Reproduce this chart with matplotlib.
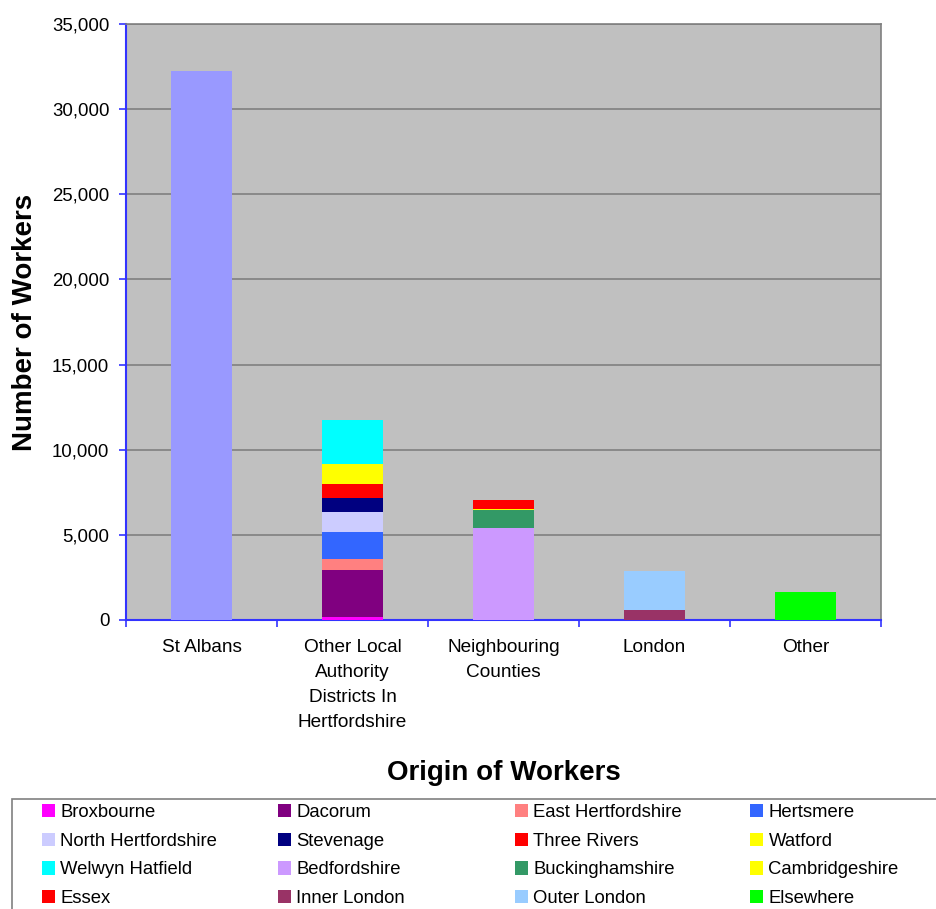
import matplotlib
matplotlib.use("Agg")
import matplotlib.pyplot as plt
from matplotlib.patches import Rectangle
import numpy as np

plt.rcParams["font.family"] = ["Liberation Sans", "DejaVu Sans"]

# Origin categories along the x axis
categories = ["St Albans",
              "Other Local\nAuthority\nDistricts In\nHertfordshire",
              "Neighbouring\nCounties",
              "London",
              "Other"]

# Workers living within St Albans itself
st_albans_values = [32250, 0, 0, 0, 0]

# Stacked components: name, category they belong to, number of workers
segment_names = ["Broxbourne", "Dacorum", "East Hertfordshire", "Hertsmere",
                 "North Hertfordshire", "Stevenage", "Three Rivers", "Watford",
                 "Welwyn Hatfield", "Bedfordshire", "Buckinghamshire",
                 "Cambridgeshire", "Essex", "Inner London", "Outer London",
                 "Elsewhere"]
segment_category = [1, 1, 1, 1, 1, 1, 1, 1, 1, 2, 2, 2, 2, 3, 3, 4]
segment_values = [180, 2760, 645, 1585, 1175, 825, 825, 1190, 2570,
                  5400, 1060, 60, 530, 590, 2290, 1645]

# Fill colours for each component
st_albans_color = "#9999FF"
segment_colors = ["#FF00FF", "#800080", "#FF8080", "#3366FF", "#CCCCFF",
                  "#000080", "#FF0000", "#FFFF00", "#00FFFF", "#CC99FF",
                  "#339966", "#FFFF00", "#FF0000", "#993366", "#99CCFF",
                  "#00FF00"]

y_ticks = [0, 5000, 10000, 15000, 20000, 25000, 30000, 35000]

W, H = 937, 909
fig = plt.figure(figsize=(W / 100, H / 100), dpi=100)
ax = fig.add_axes([126 / W, 1 - 620 / H, (881 - 126) / W, (620 - 24) / H])
ax.set_facecolor("#C0C0C0")

x = np.arange(len(categories))
bar_w = 0.4

ax.bar(x, st_albans_values, width=bar_w, color=st_albans_color, zorder=3)

bottoms = np.zeros(len(categories))
handles = []
for name, cat, val, col in zip(segment_names, segment_category,
                               segment_values, segment_colors):
    heights = np.zeros(len(categories))
    heights[cat] = val
    bc = ax.bar(x, heights, width=bar_w, bottom=bottoms, color=col,
                label=name, zorder=3)
    bottoms = bottoms + heights
    handles.append(bc)

ax.set_xlim(-0.5, len(categories) - 0.5)
ax.set_ylim(0, 35000)
ax.set_yticks(y_ticks)
ax.set_yticklabels([f"{v:,}" for v in y_ticks])
ax.yaxis.grid(True, color="#808080", linewidth=1.2, zorder=0)
ax.set_axisbelow(True)

ax.set_xticks(x)
ax.set_xticklabels(categories, linespacing=1.6)
ax.set_xticks(np.arange(len(categories) + 1) - 0.5, minor=True)
ax.tick_params(axis="x", which="major", length=0, pad=14, labelsize=13.7)
ax.tick_params(axis="x", which="minor", length=5, width=1.2,
               color="#3333FF", direction="out")
ax.tick_params(axis="y", length=5, width=1.2, color="#3333FF",
               direction="out", pad=7, labelsize=13.4)

for side in ("left", "bottom"):
    ax.spines[side].set_color("#3333FF")
    ax.spines[side].set_linewidth(1.5)
for side in ("top", "right"):
    ax.spines[side].set_color("#808080")
    ax.spines[side].set_linewidth(1.2)

ax.set_ylabel("Number of Workers", fontsize=20, fontweight="bold")
ax.yaxis.set_label_coords(-0.116, 0.5)
ax.set_xlabel("Origin of Workers", fontsize=20, fontweight="bold")
ax.xaxis.set_label_coords(0.5, -0.235)

# Legend frame (runs off the right and bottom edges)
fig.patches.append(Rectangle((12 / W, -0.1), 1.2, (H - 799) / H + 0.1,
                             transform=fig.transFigure, facecolor="none",
                             edgecolor="#808080", linewidth=1.2))

# Four legend columns with a fixed pitch
col_x = [42, 278, 515, 750]
n_rows = 4
for c, cx in enumerate(col_x):
    idx = [r * 4 + c for r in range(n_rows)]
    leg = fig.legend([handles[i] for i in idx],
                     [segment_names[i] for i in idx],
                     loc="upper left",
                     bbox_to_anchor=(cx / W, 1 - 804 / H),
                     frameon=False, fontsize=13.3, ncol=1,
                     handlelength=0.72, handleheight=0.72,
                     handletextpad=0.28, labelspacing=0.63,
                     borderpad=0, borderaxespad=0)

fig.savefig("out.png", dpi=100)
